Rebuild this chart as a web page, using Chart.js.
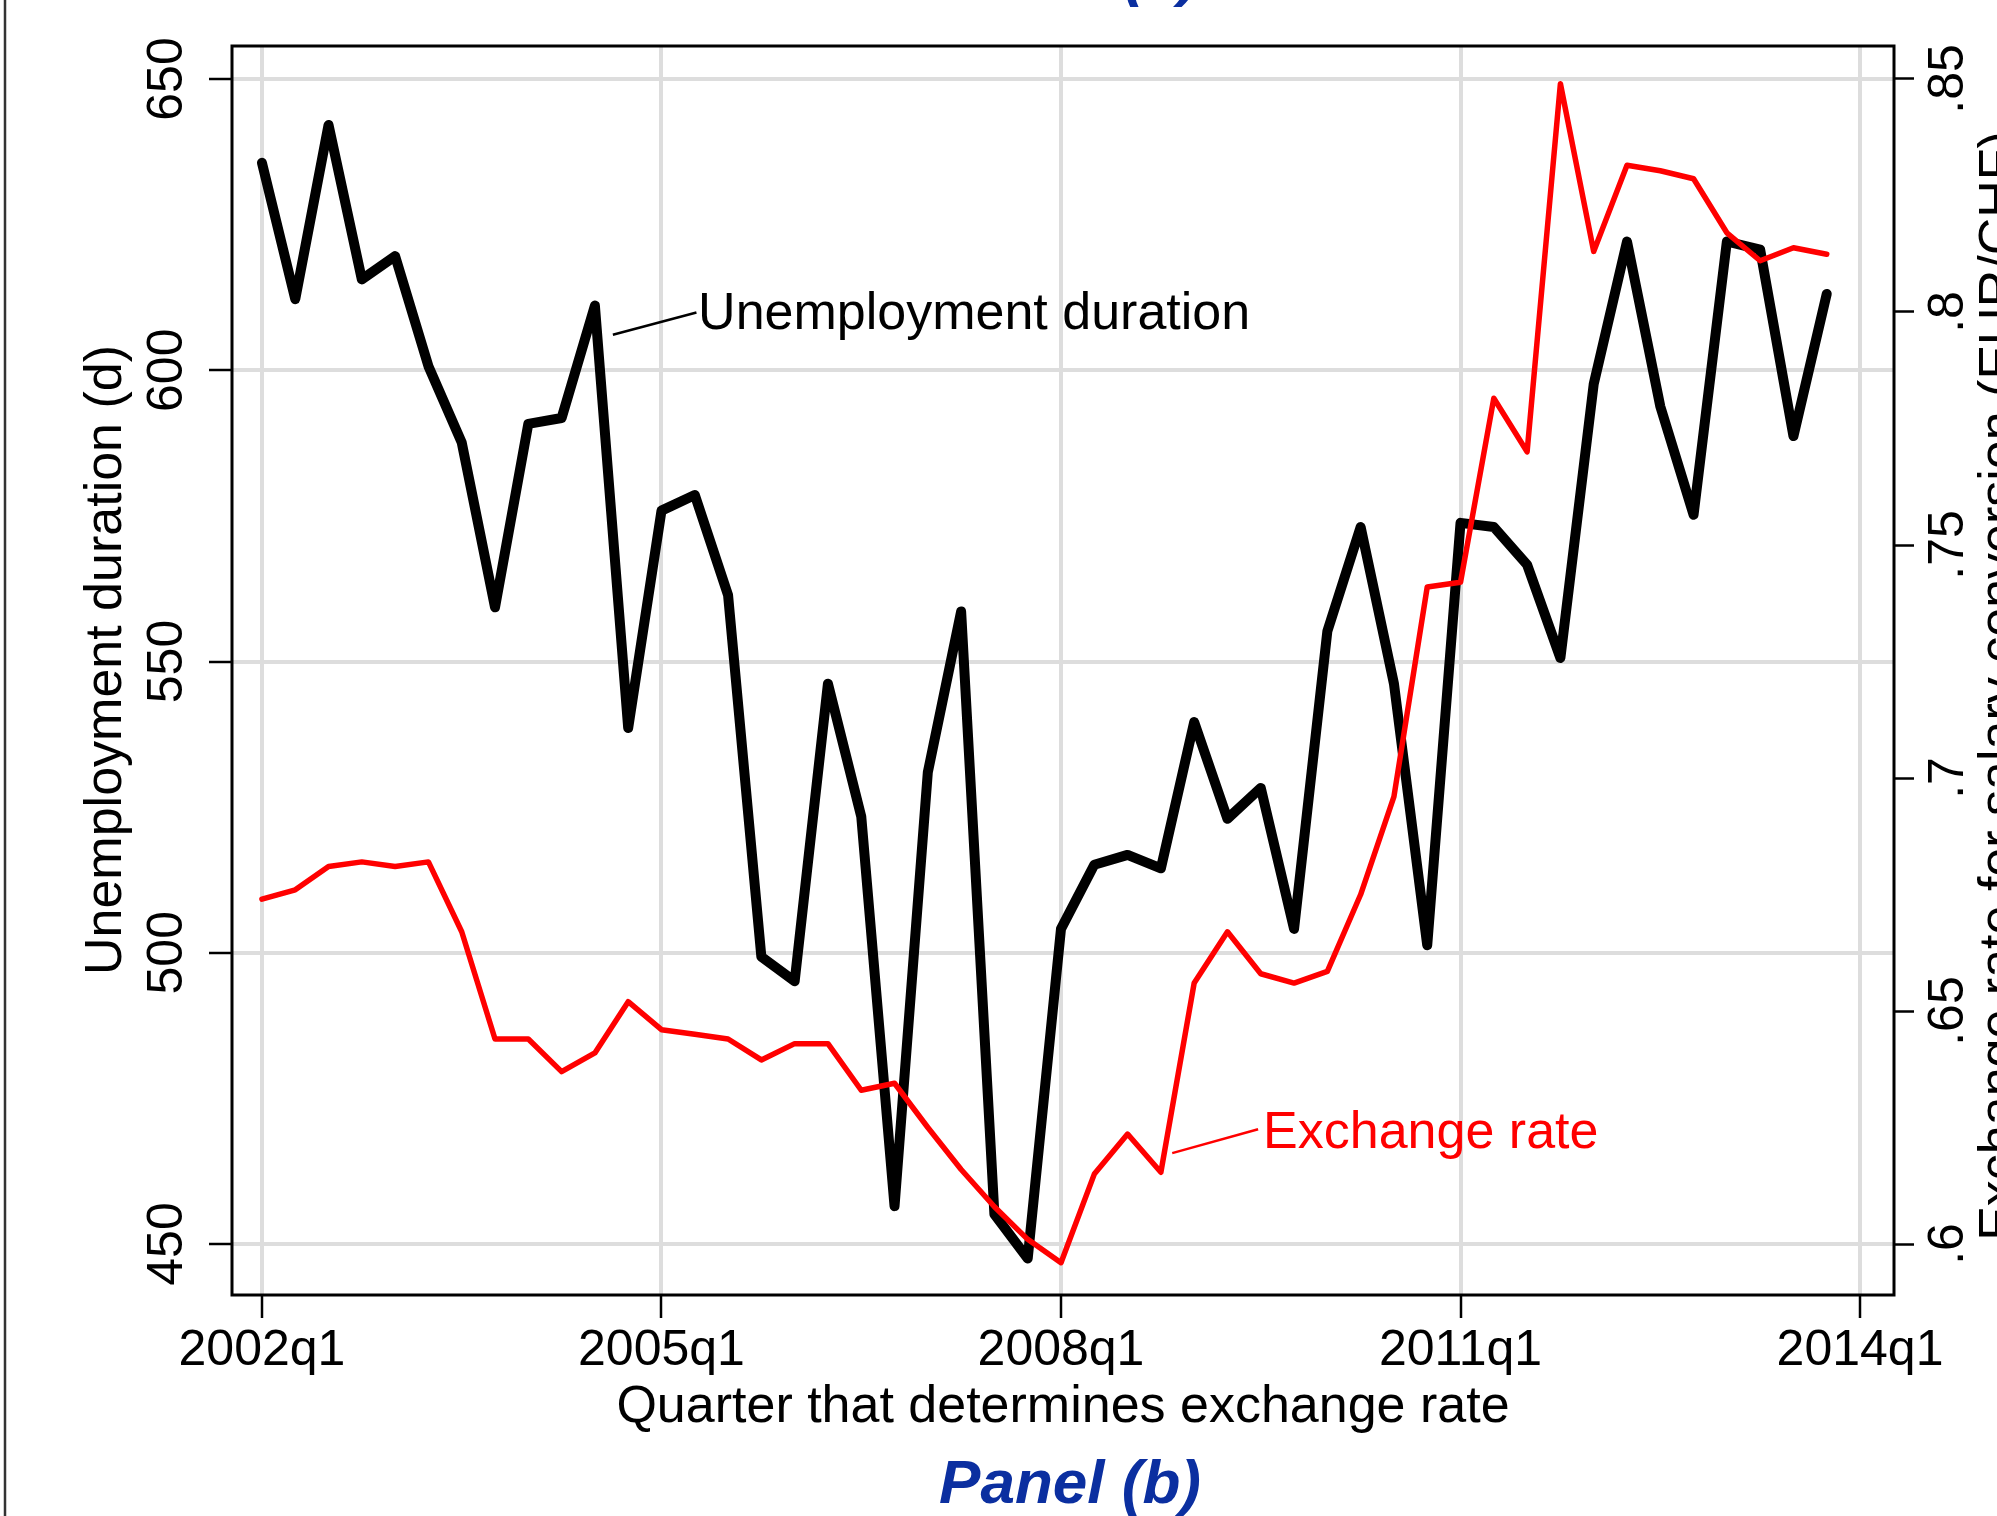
<!DOCTYPE html>
<html>
<head>
<meta charset="utf-8">
<title>Unemployment duration and exchange rate</title>
<script src="https://cdn.jsdelivr.net/npm/chart.js@4.4.1/dist/chart.umd.min.js"></script>
<style>
  html, body { margin: 0; padding: 0; background: #fff; }
  #wrap { position: relative; width: 1997px; height: 1516px; }
</style>
</head>
<body>
<div id="wrap"><canvas id="chart" width="1997" height="1516"></canvas></div>
<script>
// quarters, 2002q1 .. 2013q4
const quarters = [
  '2002q1','2002q2','2002q3','2002q4','2003q1','2003q2','2003q3','2003q4',
  '2004q1','2004q2','2004q3','2004q4','2005q1','2005q2','2005q3','2005q4',
  '2006q1','2006q2','2006q3','2006q4','2007q1','2007q2','2007q3','2007q4',
  '2008q1','2008q2','2008q3','2008q4','2009q1','2009q2','2009q3','2009q4',
  '2010q1','2010q2','2010q3','2010q4','2011q1','2011q2','2011q3','2011q4',
  '2012q1','2012q2','2012q3','2012q4','2013q1','2013q2','2013q3','2013q4'
];

// unemployment duration (days), left axis
const unemploymentDuration = [
  635.6, 612.2, 642.1, 615.6, 619.6, 600.7, 587.6, 559.3,
  590.8, 591.8, 611.1, 538.6, 575.9, 578.6, 561.4, 499.3,
  495.1, 546.2, 523.4, 456.5, 531.0, 558.6, 455.1, 447.5,
  504.1, 515.1, 516.8, 514.5, 539.6, 523.0, 528.3, 504.1,
  555.2, 573.1, 546.2, 501.3, 573.8, 573.1, 566.6, 550.6,
  597.6, 622.1, 593.8, 575.2, 622.1, 620.7, 588.7, 613.1
];

// exchange rate EUR/CHF, right axis
const exchangeRate = [
  0.674, 0.676, 0.681, 0.682, 0.681, 0.682, 0.667, 0.644,
  0.644, 0.637, 0.641, 0.652, 0.646, 0.645, 0.644, 0.6395,
  0.643, 0.643, 0.633, 0.6345, 0.625, 0.616, 0.608, 0.601,
  0.596, 0.615, 0.6236, 0.6154, 0.656, 0.667, 0.658, 0.656,
  0.6585, 0.675, 0.696, 0.741, 0.742, 0.7815, 0.770, 0.849,
  0.813, 0.8315, 0.8303, 0.8286, 0.817, 0.811, 0.8138, 0.8124
];

const xTickLabels = ['2002q1', '2005q1', '2008q1', '2011q1', '2014q1'];
const yLeftTicks = [450, 500, 550, 600, 650];
const yRightTicks = [0.6, 0.65, 0.7, 0.75, 0.8, 0.85];
const yRightTickLabels = ['.6', '.65', '.7', '.75', '.8', '.85'];

function qIndex(s) {
  const year = +s.slice(0, 4), q = +s.slice(5);
  return (year - 2002) * 4 + (q - 1);
}

const FONT = '"Liberation Sans", Arial, sans-serif';

function vText(ctx, text, x, y) {
  ctx.save();
  ctx.translate(x, y);
  ctx.rotate(-Math.PI / 2);
  ctx.fillText(text, 0, 0);
  ctx.restore();
}

// stata style frame, rotated tick labels, titles and line labels
const stataText = {
  id: 'stataText',
  beforeDatasetsDraw(chart) {
    const ctx = chart.ctx, a = chart.chartArea;
    ctx.save();
    ctx.strokeStyle = '#000';
    ctx.lineWidth = 3;
    ctx.strokeRect(a.left, a.top, a.right - a.left, a.bottom - a.top);
    ctx.restore();
  },
  afterDraw(chart) {
    const ctx = chart.ctx;
    const xs = chart.scales.x, yl = chart.scales.y, yr = chart.scales.y2;
    ctx.save();

    // outer panel border on the left
    ctx.strokeStyle = '#333';
    ctx.lineWidth = 2.5;
    ctx.beginPath();
    ctx.moveTo(5, 0);
    ctx.lineTo(5, 1516);
    ctx.stroke();

    ctx.fillStyle = '#000';
    ctx.textAlign = 'center';
    ctx.textBaseline = 'alphabetic';

    // x tick labels
    ctx.font = '50px ' + FONT;
    xTickLabels.forEach(l => {
      ctx.fillText(l, xs.getPixelForValue(qIndex(l)), 1365);
    });

    // left tick labels
    yLeftTicks.forEach(v => vText(ctx, String(v), 182, yl.getPixelForValue(v)));
    // right tick labels
    yRightTicks.forEach((v, i) => vText(ctx, yRightTickLabels[i], 1963, yr.getPixelForValue(v)));

    // axis titles
    ctx.font = '52px ' + FONT;
    ctx.fillText('Quarter that determines exchange rate', (chart.chartArea.left + chart.chartArea.right) / 2, 1422);
    vText(ctx, 'Unemployment duration (d)', 121, 660);
    vText(ctx, 'Exchange rate for salary conversion (EUR/CHF)', 2015, 686);

    // line labels with leader lines
    ctx.textAlign = 'left';
    ctx.lineWidth = 2.5;
    ctx.strokeStyle = '#000';
    ctx.beginPath();
    ctx.moveTo(xs.getPixelForValue(10.54), yl.getPixelForValue(606.1));
    ctx.lineTo(xs.getPixelForValue(13.05), yl.getPixelForValue(609.9));
    ctx.stroke();
    ctx.fillText('Unemployment duration', xs.getPixelForValue(13.1), yl.getPixelForValue(607.0));

    ctx.strokeStyle = '#ff0000';
    ctx.fillStyle = '#ff0000';
    ctx.beginPath();
    ctx.moveTo(xs.getPixelForValue(27.34), yl.getPixelForValue(465.6));
    ctx.lineTo(xs.getPixelForValue(29.92), yl.getPixelForValue(469.7));
    ctx.stroke();
    ctx.fillText('Exchange rate', xs.getPixelForValue(30.07), yl.getPixelForValue(466.5));

    // panel captions
    ctx.textAlign = 'center';
    ctx.fillStyle = '#0b2fa0';
    ctx.font = 'italic bold 62px ' + FONT;
    ctx.fillText('Panel (b)', 1070, 1503);
    ctx.fillText('Panel (a)', 1070, -6);

    ctx.restore();
  }
};

const ctx = document.getElementById('chart').getContext('2d');
const chart = new Chart(ctx, {
  type: 'line',
  data: {
    datasets: [
      {
        label: 'Exchange rate',
        data: exchangeRate.map((v, i) => ({ x: qIndex(quarters[i]), y: v })),
        yAxisID: 'y2',
        borderColor: '#ff0000',
        borderWidth: 5.5,
        pointRadius: 0,
        borderJoinStyle: 'round',
        borderCapStyle: 'round',
        order: 0
      },
      {
        label: 'Unemployment duration',
        data: unemploymentDuration.map((v, i) => ({ x: qIndex(quarters[i]), y: v })),
        yAxisID: 'y',
        borderColor: '#000000',
        borderWidth: 10,
        pointRadius: 0,
        borderJoinStyle: 'round',
        borderCapStyle: 'round',
        order: 1
      }
    ]
  },
  options: {
    responsive: false,
    devicePixelRatio: 1,
    animation: false,
    layout: { padding: { top: 46, left: 0, right: 0, bottom: 0 } },
    plugins: {
      legend: { display: false },
      tooltip: { enabled: false }
    },
    scales: {
      x: {
        type: 'linear',
        min: -0.9,
        max: 49.02,
        afterBuildTicks: s => { s.ticks = xTickLabels.map(l => ({ value: qIndex(l) })); },
        afterFit: s => { s.height = 221; },
        ticks: { display: false },
        border: { display: false },
        grid: { color: '#dddddd', lineWidth: 4, tickLength: 23, tickColor: '#000', tickWidth: 2.5 }
      },
      y: {
        position: 'left',
        min: 441.245,
        max: 655.665,
        afterBuildTicks: s => { s.ticks = yLeftTicks.map(v => ({ value: v })); },
        afterFit: s => { s.width = 232; },
        ticks: { display: false },
        border: { display: false },
        grid: { color: '#dddddd', lineWidth: 4, tickLength: 23, tickColor: '#000', tickWidth: 2.5 }
      },
      y2: {
        position: 'right',
        min: 0.58906,
        max: 0.85708,
        afterBuildTicks: s => { s.ticks = yRightTicks.map(v => ({ value: v })); },
        afterFit: s => { s.width = 103; },
        ticks: { display: false },
        border: { display: false },
        grid: { drawOnChartArea: false, tickLength: 20, tickColor: '#000', tickWidth: 2.5 }
      }
    }
  },
  plugins: [stataText]
});
</script>
</body>
</html>
